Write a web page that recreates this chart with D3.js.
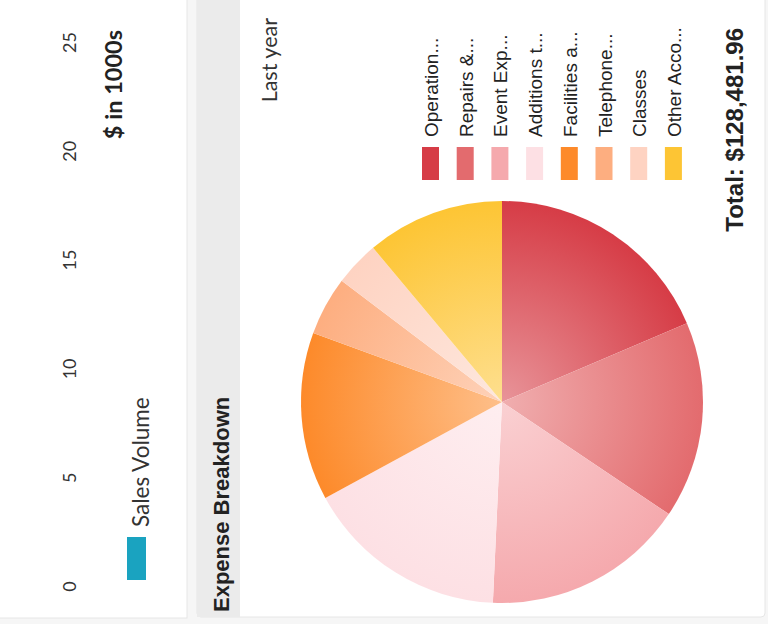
<!DOCTYPE html>
<html>
<head>
<meta charset="utf-8">
<script src="https://cdn.jsdelivr.net/npm/d3@7"></script>
<style>
  body { margin: 0; background: #f6f6f6; }
  svg { display: block; }
</style>
</head>
<body>
<div id="chart"></div>
<script>
// values
var categories = ["Operation...", "Repairs &...", "Event Exp...", "Additions t...",
                  "Facilities a...", "Telephone...", "Classes", "Other Acco..."];
var amounts = [23875, 20344, 20950, 21022, 17345, 6067, 4638, 14240.96];
var sliceColors = ["#d63c46", "#e36b6e", "#f5a9ad", "#fde0e4",
                   "#fd8a2a", "#fdae80", "#fed3c2", "#fdc534"];
var salesTicks = [0, 5, 10, 15, 20, 25];

var W = 768, H = 624;

var svg = d3.select("#chart")
  .append("svg")
    .attr("width", W)
    .attr("height", H);

var defs = svg.append("defs");

// the whole dashboard is turned a quarter turn, so draw it upright and rotate
var g = svg.append("g")
    .attr("transform", "translate(0," + H + ") rotate(-90)");

// ---- top panel (sales volume remnant) ----
g.append("rect")
    .attr("x", 6).attr("y", -10)
    .attr("width", 640).attr("height", 197)
    .attr("fill", "#fff").attr("stroke", "#e6e6e6");

var x = d3.scaleLinear()
    .domain([0, 25])
    .range([37, 581]);

var xAxis = g.append("g")
    .attr("transform", "translate(0,60)")
    .call(d3.axisBottom(x).tickValues(salesTicks).tickSize(0));
xAxis.select(".domain").remove();
xAxis.selectAll("text")
    .attr("font-family", "Lato, sans-serif")
    .attr("font-size", "18px")
    .attr("fill", "#333");

g.append("rect")
    .attr("x", 44).attr("y", 127)
    .attr("width", 43).attr("height", 19)
    .attr("fill", "#1aa3c0");
g.append("text")
    .attr("x", 97).attr("y", 149)
    .text("Sales Volume")
    .attr("font-family", "Lato, sans-serif")
    .attr("font-size", "22.5px")
    .attr("fill", "#333");

g.append("text")
    .attr("x", 594).attr("y", 122)
    .attr("text-anchor", "end")
    .text("$ in 1000s")
    .attr("font-family", "Lato, sans-serif")
    .attr("font-weight", "bold")
    .attr("font-size", "23.5px")
    .attr("fill", "#222");

// ---- expense breakdown panel ----
g.append("rect")
    .attr("x", 7).attr("y", 197)
    .attr("width", 640).attr("height", 568)
    .attr("rx", 4)
    .attr("fill", "#fff").attr("stroke", "#e6e6e6");
g.append("rect")
    .attr("x", 7).attr("y", 197)
    .attr("width", 640).attr("height", 43)
    .attr("fill", "#ebebeb");
g.append("text")
    .attr("x", 12).attr("y", 229)
    .text("Expense Breakdown")
    .attr("font-family", "Liberation Sans, Arial, sans-serif")
    .attr("font-weight", "bold")
    .attr("font-size", "22px")
    .attr("fill", "#222");

g.append("text")
    .attr("x", 606).attr("y", 277)
    .attr("text-anchor", "end")
    .text("Last year")
    .attr("font-family", "Lato, sans-serif")
    .attr("font-size", "21.5px")
    .attr("fill", "#333");

// pie
var cx = 222, cy = 502, radius = 201;
var color = d3.scaleOrdinal().domain(categories).range(sliceColors);

// lighter toward the centre, full colour at the rim
categories.forEach(function(c, i) {
  var grad = defs.append("radialGradient")
      .attr("id", "grad" + i)
      .attr("gradientUnits", "userSpaceOnUse")
      .attr("cx", 0).attr("cy", 0).attr("r", radius);
  grad.append("stop").attr("offset", "0%")
      .attr("stop-color", d3.interpolateRgb(color(c), "#fff")(0.45));
  grad.append("stop").attr("offset", "100%")
      .attr("stop-color", color(c));
});

var pie = d3.pie()
    .sort(null)
    .startAngle(Math.PI / 2)
    .endAngle(Math.PI / 2 + 2 * Math.PI)
    .value(function(d) { return d.value; });

var arc = d3.arc().innerRadius(0).outerRadius(radius);

var data = categories.map(function(c, i) { return {key: c, value: amounts[i], i: i}; });

var pieG = g.append("g")
    .attr("transform", "translate(" + cx + "," + cy + ")");
pieG.selectAll("path")
  .data(pie(data))
  .enter().append("path")
    .attr("d", arc)
    .attr("fill", function(d) { return "url(#grad" + d.data.i + ")"; });

// legend
var legend = g.selectAll("g.legend")
  .data(categories)
  .enter().append("g")
    .attr("class", "legend")
    .attr("transform", function(d, i) { return "translate(444," + (422 + i * 34.7) + ")"; });
legend.append("rect")
    .attr("width", 33).attr("height", 17)
    .attr("fill", function(d) { return color(d); });
legend.append("text")
    .attr("x", 43).attr("y", 16)
    .text(function(d) { return d; })
    .attr("font-family", "Liberation Sans, Arial, sans-serif")
    .attr("font-size", "19px")
    .attr("fill", "#222");

// total
var total = d3.sum(amounts);
g.append("text")
    .attr("x", 596).attr("y", 743)
    .attr("text-anchor", "end")
    .text("Total: " + d3.format("$,.2f")(total))
    .attr("font-family", "Liberation Sans, Arial, sans-serif")
    .attr("font-weight", "bold")
    .attr("font-size", "24px")
    .attr("fill", "#222");
</script>
</body>
</html>
